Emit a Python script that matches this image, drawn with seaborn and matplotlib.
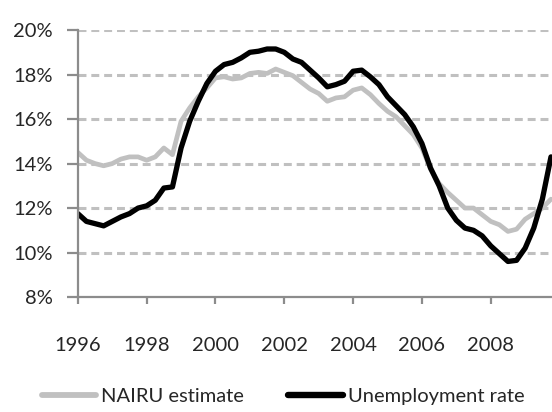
import numpy as np
import pandas as pd
import matplotlib.pyplot as plt
import seaborn as sns
from matplotlib.lines import Line2D

# quarterly data, 1996Q1 - 2009Q4
quarters = pd.period_range('1996Q1', '2009Q4', freq='Q')
years = [q.year + (q.quarter - 1) / 4 for q in quarters]

unemployment = [11.75, 11.4, 11.3, 11.2, 11.4, 11.6, 11.75, 12.0,
                12.1, 12.35, 12.9, 12.95, 14.7, 15.9, 16.8, 17.6,
                18.15, 18.45, 18.55, 18.75, 19.0, 19.05, 19.15, 19.15,
                19.0, 18.7, 18.55, 18.2, 17.85, 17.45, 17.55, 17.7,
                18.15, 18.2, 17.9, 17.55, 17.0, 16.6, 16.2, 15.65,
                14.9, 13.8, 13.0, 12.0, 11.45, 11.1, 11.0, 10.75,
                10.3, 9.95, 9.6, 9.65, 10.2, 11.1, 12.4, 14.3]

nairu = [14.5, 14.15, 14.0, 13.9, 14.0, 14.2, 14.3, 14.3,
         14.15, 14.3, 14.7, 14.4, 15.9, 16.5, 17.0, 17.4,
         17.85, 17.9, 17.8, 17.85, 18.05, 18.1, 18.05, 18.25,
         18.1, 17.95, 17.65, 17.35, 17.15, 16.8, 16.95, 17.0,
         17.3, 17.4, 17.1, 16.7, 16.35, 16.1, 15.7, 15.3,
         14.7, 13.75, 13.1, 12.7, 12.35, 12.0, 12.0, 11.7,
         11.4, 11.25, 10.95, 11.05, 11.5, 11.75, 12.0, 12.4]

series_names = ['NAIRU estimate', 'Unemployment rate']
tick_years = [1996, 1998, 2000, 2002, 2004, 2006, 2008]
y_ticks = [8, 10, 12, 14, 16, 18, 20]

df = pd.DataFrame({
    'year': years * 2,
    'rate': nairu + unemployment,
    'series': [series_names[0]] * len(nairu) + [series_names[1]] * len(unemployment),
})

sns.set_style('white')
plt.rcParams['font.family'] = ['Lato', 'DejaVu Sans']
plt.rcParams['xtick.major.pad'] = 24
plt.rcParams['ytick.major.pad'] = 10

fs = 14.5
fig = plt.figure(figsize=(5.52, 4.12), dpi=100)
ax = fig.add_axes([0.141, 0.279, 0.859, 0.648])

# dashed grid lines
for v in y_ticks[1:]:
    ax.axhline(v, color='#c0c0c0', lw=2.2, ls=(0, (2.6, 1.6)), zorder=0)

sns.lineplot(data=df, x='year', y='rate', hue='series',
             palette={'NAIRU estimate': '#c0c0c0', 'Unemployment rate': 'black'},
             ax=ax, legend=False)
ax.lines[-2].set_linewidth(3.4)
ax.lines[-1].set_linewidth(3.8)

ax.set_xlim(1996, 2009.78)
ax.set_ylim(8, 20)
ax.set_xticks(tick_years)
ax.set_xticklabels([str(y) for y in tick_years])
ax.set_yticks(y_ticks)
ax.set_yticklabels([f'{v}%' for v in y_ticks])
ax.set_xlabel('')
ax.set_ylabel('')

for side in ['top', 'right']:
    ax.spines[side].set_visible(False)
for side in ['left', 'bottom']:
    ax.spines[side].set_color('#8c8c8c')
    ax.spines[side].set_linewidth(1.6)

ax.tick_params(axis='y', length=8, width=1.6, color='#8c8c8c', pad=10,
               labelsize=fs, left=True)
ax.tick_params(axis='x', length=5, width=1.6, color='#8c8c8c', pad=24,
               labelsize=fs, bottom=True)

# legend below the plot
handles = [Line2D([], [], color='#c0c0c0', lw=4.2),
           Line2D([], [], color='black', lw=4.6)]
fig.legend(handles, series_names, loc='center', bbox_to_anchor=(0.513, 0.037),
           ncol=2, frameon=False, fontsize=fs, handlelength=2.7,
           handletextpad=0.25, columnspacing=2.2)

fig.savefig('out.png', dpi=100)
